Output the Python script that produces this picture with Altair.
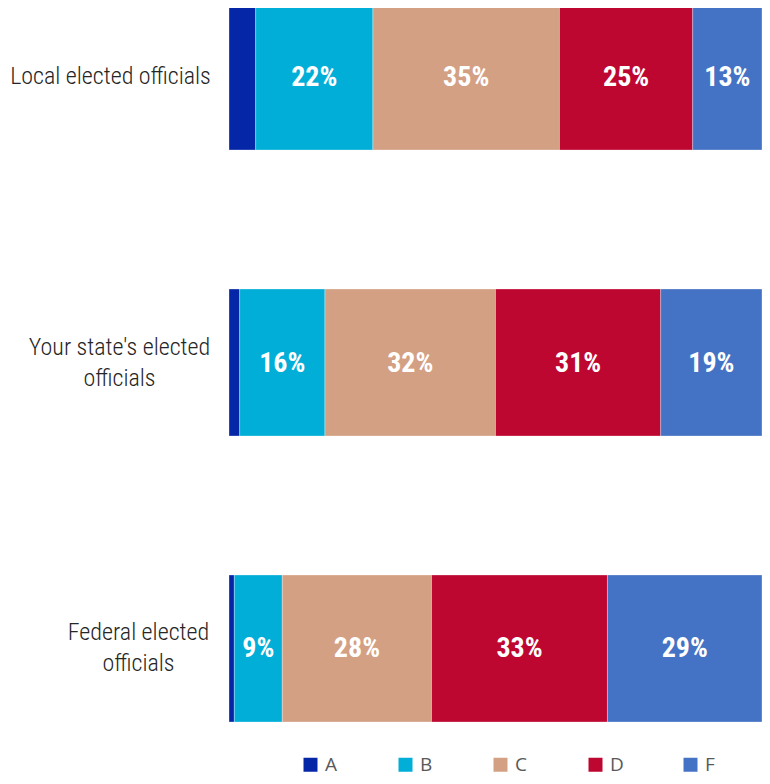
import json
import altair as alt
import pandas as pd

categories = ["Local elected officials", "Your state's elected officials", "Federal elected officials"]
label_lines = {
    "Local elected officials": ["Local elected officials"],
    "Your state's elected officials": ["Your state's elected", "officials"],
    "Federal elected officials": ["Federal elected", "officials"],
}
grades = ["A", "B", "C", "D", "F"]
local_vals = [5, 22, 35, 25, 13]
state_vals = [2, 16, 32, 31, 19]
federal_vals = [1, 9, 28, 33, 29]
colors = ["#0626a8", "#00aed8", "#d4a084", "#be0730", "#4472c4"]

rows = []
for cat, vals in zip(categories, [local_vals, state_vals, federal_vals]):
    for i, (g, v) in enumerate(zip(grades, vals)):
        rows.append({"category": cat, "grade": g, "value": v, "order": i})
df = pd.DataFrame(rows)

label_expr = " : ".join(
    f"datum.label == {json.dumps(k)} ? {json.dumps(v)}" for k, v in label_lines.items()
) + " : datum.label"

AXIS_FONT = "Roboto Condensed Light, Roboto Condensed, Liberation Sans Narrow, Roboto"
VALUE_FONT = "Roboto Condensed, Liberation Sans Narrow, Roboto"

y_enc = alt.Y(
    "category:N",
    sort=categories,
    scale=alt.Scale(range=[-5, 714], paddingInner=0.486, paddingOuter=0),
    axis=alt.Axis(
        title=None,
        ticks=False,
        domain=False,
        labelExpr=label_expr,
        labelFont=AXIS_FONT,
        labelFontWeight=300,
        labelFontSize=24,
        labelColor="#262626",
        labelLineHeight=31,
        labelLimit=300,
        labelAlign="center",
        labelBaseline="middle",
        labelOffset={
            "condition": [
                {"test": f"datum.value == {json.dumps(categories[0])}", "value": 0},
            ],
            "value": -15,
        },
        labelPadding={
            "condition": [
                {"test": f"datum.value == {json.dumps(categories[0])}", "value": 119},
                {"test": f"datum.value == {json.dumps(categories[1])}", "value": 110},
            ],
            "value": 91,
        },
    ),
)

bars = alt.Chart(df).mark_bar(stroke="white", strokeWidth=0.6, strokeOpacity=0.5).encode(
    y=y_enc,
    x=alt.X("value:Q", stack="zero", scale=alt.Scale(domain=[0, 100]), axis=None),
    color=alt.Color(
        "grade:N",
        scale=alt.Scale(domain=grades, range=colors),
        legend=alt.Legend(
            title=None,
            orient="none",
            legendX=72,
            legendY=747,
            direction="horizontal",
            columns=5,
            columnPadding=57,
            gridAlign="all",
            symbolType="square",
            symbolSize=196,
            symbolStrokeWidth=0,
            labelOffset=5,
            labelFont="Open Sans",
            labelFontSize=19,
            labelColor="#595959",
            padding=0,
        ),
    ),
    order=alt.Order("order:Q"),
)

texts = alt.Chart(df).transform_stack(
    stack="value", groupby=["category"], as_=["x0", "x1"], sort=[alt.SortField("order")]
).transform_calculate(
    mid="(datum.x0 + datum.x1) / 2", lbl="datum.value + '%'"
).transform_filter(
    "datum.value >= 8"
).mark_text(
    font=VALUE_FONT, fontWeight="bold", fontSize=28, color="white", baseline="middle", dy=1
).encode(
    y=alt.Y("category:N", sort=categories),
    x=alt.X("mid:Q"),
    text="lbl:N",
)

chart = alt.layer(bars, texts).properties(
    width=533,
    height=714,
    autosize=alt.AutoSizeParams(type="none"),
    padding={"left": 221, "right": 0, "top": 0, "bottom": 54},
).configure_view(stroke=None)

chart.save("out.html", embed_options={"renderer": "svg", "actions": False})
